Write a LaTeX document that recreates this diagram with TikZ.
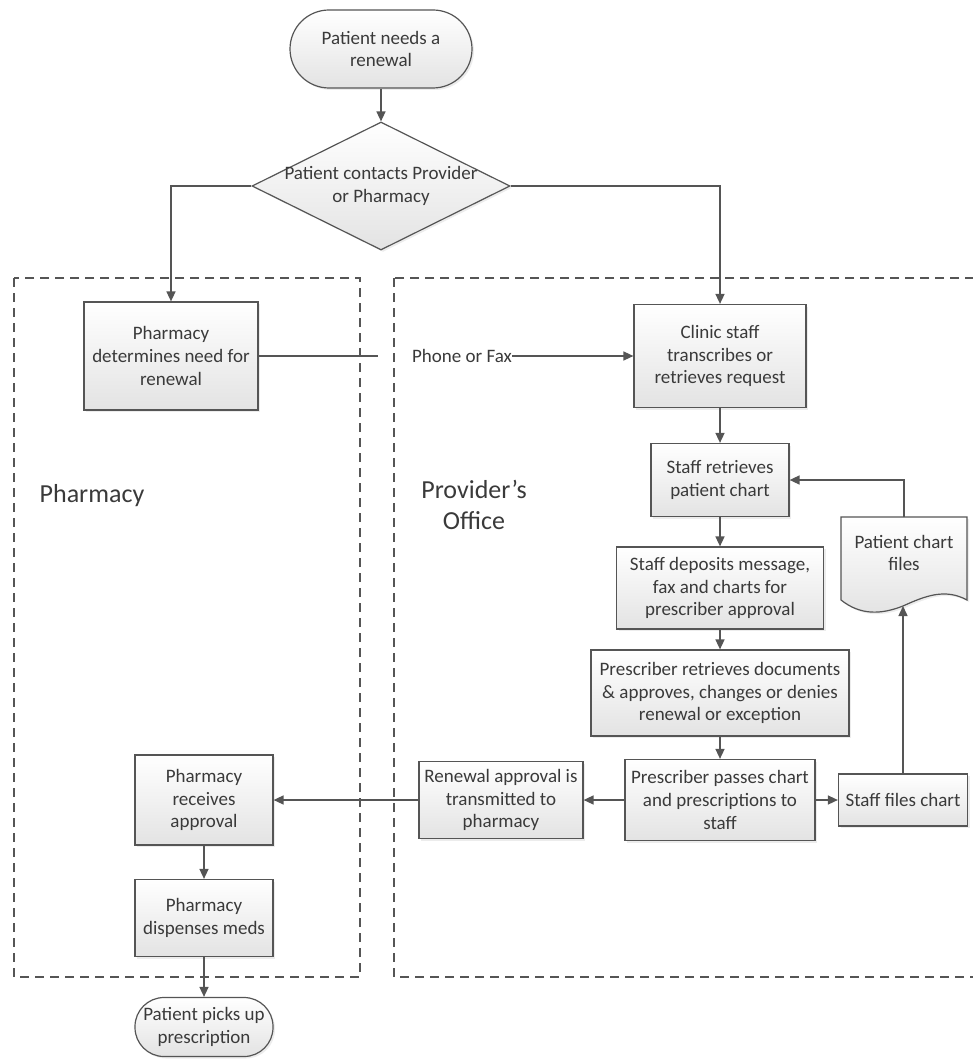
\documentclass[tikz,border=0pt]{standalone}
\usepackage{fontspec}
\setmainfont{Carlito}
\usetikzlibrary{arrows.meta,shapes.geometric,shadows}
\definecolor{linegray}{HTML}{555555}
\definecolor{textgray}{HTML}{3A3A3A}
\begin{document}
\begin{tikzpicture}[x=1pt,y=-1pt,
  every node/.style={text=textgray,font=\fontsize{19}{22.6}\selectfont,align=center,inner sep=0pt},
  box/.style={draw=linegray,line width=1.2pt,top color=white,bottom color=gray!22,
    drop shadow={opacity=0.15,shadow xshift=2pt,shadow yshift=-2pt}},
  term/.style={box,rounded corners=#1},
  decision/.style={box,diamond,minimum width=258pt,minimum height=128pt},
  link/.style={draw=linegray,line width=1.5pt},
  arr/.style={link,-{Triangle[length=10pt,width=9pt]}},
  frame/.style={draw=linegray,line width=1.2pt,dash pattern=on 9pt off 6pt},
  biglabel/.style={font=\fontsize{26}{31}\selectfont}]
\useasboundingbox (0,0) rectangle (972,1059);

\draw [frame] (14,278) rectangle (360,977);
\draw [frame] (394,278) rectangle (990,977);
\node [biglabel] (pharmlbl) at (92,496) {Pharmacy};
\node [biglabel] (provlbl) at (474,505) {Provider’s\\Office};

\node [term=39pt,minimum width=182pt,minimum height=78pt] (need) at (381,49) {Patient needs a\\renewal};
\node [decision] (contact) at (381,186) {};
\node (contacttxt) at (contact) {Patient contacts Provider\\or Pharmacy};

\node [box,minimum width=174pt,minimum height=108pt] (pdet) at (171,356) {Pharmacy\\determines need for\\renewal};
\node [box,minimum width=172pt,minimum height=103pt] (clinic) at (720,356) {Clinic staff\\transcribes or\\retrieves request};
\node [box,minimum width=138pt,minimum height=73pt] (sret) at (720,480) {Staff retrieves\\patient chart};
\node [box,minimum width=207pt,minimum height=82pt] (sdep) at (720,588) {Staff deposits message,\\fax and charts for\\prescriber approval};
\node [box,minimum width=258pt,minimum height=86pt] (pret) at (720,693) {Prescriber retrieves documents\\\& approves, changes or denies\\renewal or exception};
\node [box,minimum width=190pt,minimum height=81pt] (ppass) at (720,800) {Prescriber passes chart\\and prescriptions to\\staff};
\node [box,minimum width=164pt,minimum height=77pt] (renew) at (501,800) {Renewal approval is\\transmitted to\\pharmacy};
\node [box,minimum width=129pt,minimum height=52pt] (sfiles) at (903,800) {Staff files chart};
\node [box,minimum width=138pt,minimum height=90pt] (precv) at (204,800) {Pharmacy\\receives\\approval};
\node [box,minimum width=138pt,minimum height=77pt] (pdisp) at (204,918) {Pharmacy\\dispenses meds};
\node [term=29pt,minimum width=138pt,minimum height=59pt] (picks) at (204,1027) {Patient picks up\\prescription};

\coordinate (filestop) at (904,517);
\coordinate (filesbot) at (903,606);
\draw [box] (841,517) -- (967,517) -- (967,600)
  .. controls (945,588) and (925,596) .. (filesbot)
  .. controls (880,615) and (860,615) .. (841,600) -- cycle;
\node (files) at (904,553) {Patient chart\\files};

\coordinate (faxgap) at (378,356);
\node (fax) at (462,356) {Phone or Fax};

\draw [arr] (need) -- (contact);
\draw [arr] (contact.west) -| (pdet.north);
\draw [arr] (contact.east) -| (clinic.north);
\draw [link] (pdet.east) -- (faxgap);
\draw [arr] (fax.east) -- (clinic.west);
\draw [arr] (clinic) -- (sret);
\draw [arr] (sret) -- (sdep);
\draw [arr] (sdep) -- (pret);
\draw [arr] (pret) -- (ppass);
\draw [arr] (ppass) -- (renew);
\draw [arr] (ppass) -- (sfiles);
\draw [arr] (renew) -- (precv);
\draw [arr] (sfiles.north) -- (filesbot);
\draw [arr] (filestop) |- (sret.east);
\draw [arr] (precv) -- (pdisp);
\draw [arr] (pdisp) -- (picks);
\end{tikzpicture}
\end{document}
